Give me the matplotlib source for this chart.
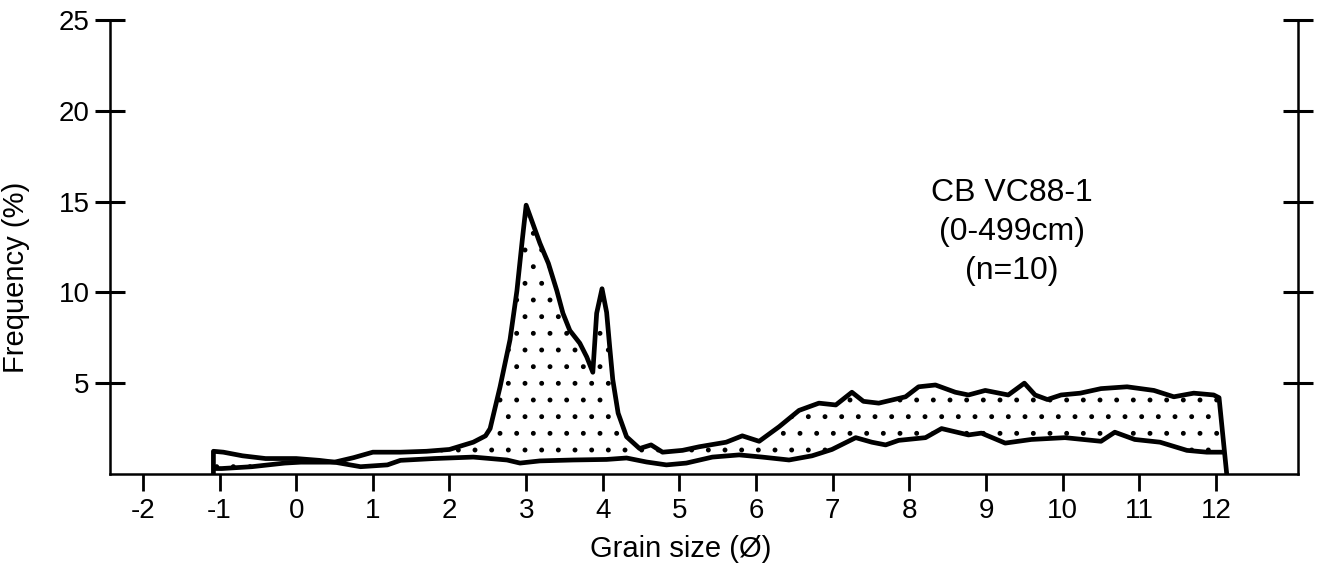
import numpy as np
import matplotlib
matplotlib.use('Agg')
import matplotlib.pyplot as plt

plt.rcParams['font.family'] = ['Liberation Sans', 'DejaVu Sans']
plt.rcParams['hatch.linewidth'] = 1.1
plt.rcParams['axes.unicode_minus'] = False

# coarse envelope (upper) of the grain size curves, grain size in phi
upper_x = [-1.08, -1.08, -0.95, -0.7, -0.4, 0.0, 0.3, 0.5, 0.75, 1.0, 1.36, 1.7, 2.0,
           2.31, 2.47, 2.53, 2.66, 2.79, 2.88, 2.95, 3.0, 3.18, 3.29, 3.40, 3.48, 3.57,
           3.70, 3.79, 3.87, 3.92, 3.99, 4.05, 4.09, 4.13, 4.2, 4.31, 4.48, 4.63, 4.78,
           5.04, 5.26, 5.61, 5.82, 6.04, 6.30, 6.56, 6.82, 7.04, 7.25, 7.4, 7.6, 7.95,
           8.12, 8.34, 8.6, 8.77, 8.99, 9.29, 9.5, 9.64, 9.8, 9.98, 10.23, 10.5, 10.84,
           11.19, 11.45, 11.71, 11.97, 12.04, 12.14]
upper_y = [0.0, 1.25, 1.2, 1.0, 0.85, 0.85, 0.75, 0.65, 0.9, 1.2, 1.2, 1.25, 1.35,
           1.75, 2.1, 2.5, 4.8, 7.4, 10.1, 12.9, 14.8, 12.7, 11.6, 10.1, 8.85, 7.9,
           7.2, 6.45, 5.6, 8.85, 10.2, 8.9, 7.0, 5.2, 3.35, 2.05, 1.4, 1.6, 1.2,
           1.3, 1.5, 1.75, 2.1, 1.8, 2.6, 3.5, 3.9, 3.8, 4.5, 4.0, 3.9, 4.25,
           4.8, 4.9, 4.5, 4.35, 4.6, 4.35, 5.0, 4.35, 4.1, 4.35, 4.45, 4.7, 4.8,
           4.6, 4.25, 4.45, 4.35, 4.2, 0.0]

# fine envelope (lower)
lower_x = [-1.05, -0.97, -0.58, -0.15, 0.06, 0.5, 0.84, 1.19, 1.36, 1.8, 2.31, 2.75,
           2.92, 3.18, 3.61, 4.05, 4.31, 4.57, 4.83, 5.09, 5.43, 5.78, 6.08, 6.43,
           6.73, 6.99, 7.3, 7.51, 7.69, 7.86, 8.21, 8.42, 8.77, 8.94, 9.25, 9.59,
           10.03, 10.5, 10.68, 10.94, 11.27, 11.62, 11.88, 12.1]
lower_y = [0.3, 0.3, 0.4, 0.6, 0.65, 0.65, 0.4, 0.5, 0.75, 0.85, 0.93, 0.77,
           0.6, 0.72, 0.77, 0.8, 0.88, 0.66, 0.5, 0.6, 0.93, 1.05, 0.93, 0.77,
           1.0, 1.35, 2.0, 1.75, 1.6, 1.85, 2.0, 2.5, 2.15, 2.25, 1.7, 1.9,
           2.0, 1.8, 2.3, 1.9, 1.75, 1.3, 1.2, 1.2]

x_ticks = list(range(-2, 13))
y_ticks = [5, 10, 15, 20, 25]

fig = plt.figure(figsize=(13.23, 5.75), dpi=100)
ax = fig.add_axes([0.0831, 0.1757, 0.898, 0.7896])

poly_x = np.concatenate([upper_x, lower_x[::-1]])
poly_y = np.concatenate([upper_y, lower_y[::-1]])
ax.fill(poly_x, poly_y, facecolor='none', edgecolor='black', hatch='.', linewidth=0)

ax.plot(upper_x, upper_y, color='black', lw=3.4, solid_joinstyle='round', solid_capstyle='round')
ax.plot(lower_x, lower_y, color='black', lw=3.4, solid_joinstyle='round', solid_capstyle='round')

ax.set_xlim(-2.43, 13.07)
ax.set_ylim(0, 25)
ax.set_xticks(x_ticks)
ax.set_yticks(y_ticks)

ax.spines['top'].set_visible(False)
for s in ['left', 'right', 'bottom']:
    ax.spines[s].set_linewidth(1.8)

ax.tick_params(axis='x', direction='out', length=12, width=2, pad=5, labelsize=20)
ax.tick_params(axis='y', direction='inout', length=22, width=2.2, pad=3.5, labelsize=20,
               right=True)

ax.set_xlabel('Grain size (Ø)', fontsize=21)
ax.xaxis.set_label_coords(0.48, -0.135)
ax.set_ylabel('Frequency (%)', fontsize=21)
ax.yaxis.set_label_coords(-0.067, 0.434)

ax.text(0.759, 0.533, 'CB VC88-1\n(0-499cm)\n(n=10)', transform=ax.transAxes,
        ha='center', va='center', multialignment='center', fontsize=23, linespacing=1.4)

fig.savefig('out.png', dpi=100)
